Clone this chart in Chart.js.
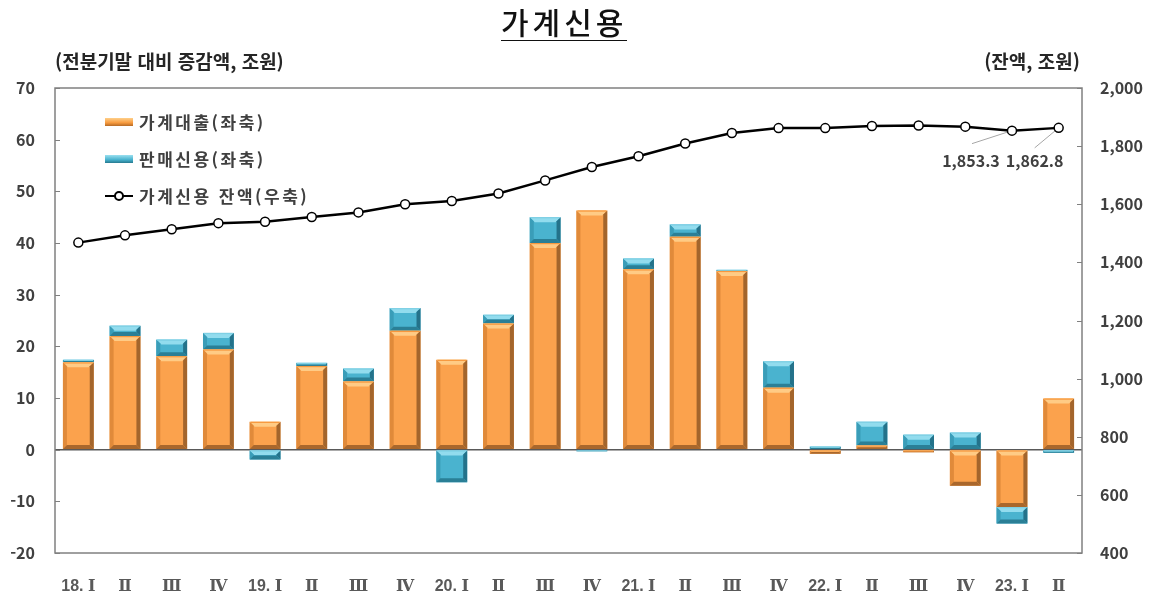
<!DOCTYPE html>
<html lang="ko">
<head>
<meta charset="utf-8">
<script src="https://cdn.jsdelivr.net/npm/chart.js@4.4.1/dist/chart.umd.min.js"></script>
<style>
  body { margin: 0; background: #fff; }
  #wrap { position: relative; width: 1152px; height: 596px; font-family: 'Noto Sans CJK KR', sans-serif; }
  #title { position: absolute; left: 501px; top: 3px; font-size: 30px; font-weight: 500; color: #111;
           letter-spacing: 4px; border-bottom: 1.5px solid #111; line-height: 36px; padding-bottom: 1px; }
  .axisTitle { position: absolute; top: 47px; font-size: 19px; font-weight: bold; color: #262626; }
  #legend { position: absolute; left: 105px; top: 103px; font-size: 17px; font-weight: bold; color: #404040; letter-spacing: 2.5px; }
  .item { height: 37px; display: flex; align-items: center; }
  .box { width: 28px; height: 8px; margin-right: 6px; }
  .lineIcon { width: 28px; height: 2px; background: #000; margin-right: 6px; position: relative; }
  .lineIcon::after { content: ''; position: absolute; left: 9px; top: -4px; width: 6px; height: 6px; border: 2px solid #000; border-radius: 50%; background: #fff; }
</style>
</head>
<body>
<div id="wrap">
  <canvas id="chart"></canvas>
  <div id="title">가계신용</div>
  <div class="axisTitle" style="left:55px">(전분기말 대비 증감액, 조원)</div>
  <div class="axisTitle" style="right:72px">(잔액, 조원)</div>
  <div id="legend">
    <div class="item"><div class="box" style="background:linear-gradient(#FFD08A,#F79A3E 60%,#B56A26)"></div>가계대출(좌축)</div>
    <div class="item"><div class="box" style="background:linear-gradient(#9BE0F0,#46B1CD 60%,#26798F)"></div>판매신용(좌축)</div>
    <div class="item"><div class="lineIcon"></div>가계신용 잔액(우축)</div>
  </div>
</div>
<script>
// 분기 라벨
const quarters = ['18. Ⅰ', 'Ⅱ', 'Ⅲ', 'Ⅳ', '19. Ⅰ', 'Ⅱ', 'Ⅲ', 'Ⅳ', '20. Ⅰ', 'Ⅱ', 'Ⅲ', 'Ⅳ',
  '21. Ⅰ', 'Ⅱ', 'Ⅲ', 'Ⅳ', '22. Ⅰ', 'Ⅱ', 'Ⅲ', 'Ⅳ', '23. Ⅰ', 'Ⅱ'];

// 전분기말 대비 증감액 (조원)
const householdLoans = [16.9, 22.0, 18.1, 19.4, 5.4, 16.2, 13.2, 23.0, 17.4, 24.4, 40.0, 46.3,
  34.9, 41.2, 34.6, 12.0, -0.8, 0.8, -0.5, -7.0, -11.1, 9.9];
const salesCredit = [0.5, 2.0, 3.2, 3.2, -1.9, 0.6, 2.5, 4.4, -6.3, 1.7, 5.0, -0.3,
  2.1, 2.4, 0.2, 5.1, 0.6, 4.6, 2.9, 3.3, -3.2, -0.6];

// 가계신용 잔액 (조원)
const creditBalance = [1468, 1493, 1514, 1535, 1540, 1556, 1572, 1600, 1611, 1637, 1682, 1728,
  1765, 1809, 1845, 1862, 1862, 1869, 1871, 1867, 1853.3, 1862.8];

const LABEL_FONT = "'Noto Sans CJK KR', sans-serif";
const XTICK_FONT = "'Liberation Sans', 'DejaVu Serif', sans-serif";

function poly(ctx, pts, color) {
  ctx.beginPath();
  ctx.moveTo(pts[0][0], pts[0][1]);
  for (let i = 1; i < pts.length; i++) ctx.lineTo(pts[i][0], pts[i][1]);
  ctx.closePath();
  ctx.fillStyle = color;
  ctx.fill();
}

// 막대 입체(베벨) 효과
const bevelPlugin = {
  id: 'bevel',
  afterDatasetDraw(chart, args) {
    const ds = chart.data.datasets[args.index];
    if (!ds.bevel) return;
    const pal = ds.bevel;
    const ctx = chart.ctx;
    args.meta.data.forEach(bar => {
      const { x, y, base, width } = bar.getProps(['x', 'y', 'base', 'width'], true);
      const l = x - width / 2, r = x + width / 2;
      const t = Math.min(y, base), b = Math.max(y, base);
      const h = b - t;
      if (h < 0.5) return;
      const e = Math.min(5, h / 2);
      const s = Math.min(4, h / 2);
      ctx.save();
      poly(ctx, [[l, t], [r, t], [r - e, t + e], [l + e, t + e]], pal.top);
      poly(ctx, [[l, t], [l + s, t + s], [l + s, b - s], [l, b]], pal.left);
      poly(ctx, [[r, t], [r, b], [r - s, b - s], [r - s, t + s]], pal.right);
      poly(ctx, [[l, b], [r, b], [r - s, b - s], [l + s, b - s]], pal.bottom);
      ctx.fillStyle = pal.rim;
      ctx.fillRect(l + 1, t, width - 2, Math.min(1.2, h));
      ctx.restore();
    });
  }
};

// 테두리, 안쪽 눈금, 마지막 두 값 표시
const framePlugin = {
  id: 'frame',
  beforeDatasetsDraw(chart) {
    const { ctx, chartArea: a } = chart;
    const yL = chart.scales.y, yR = chart.scales.y2;
    ctx.save();
    ctx.strokeStyle = '#808080';
    ctx.lineWidth = 1.5;
    ctx.strokeRect(a.left, a.top, a.right - a.left, a.bottom - a.top);
    ctx.lineWidth = 1;
    yL.ticks.forEach(t => {
      const py = Math.round(yL.getPixelForValue(t.value)) + 0.5;
      ctx.beginPath(); ctx.moveTo(a.left, py); ctx.lineTo(a.left + 5, py); ctx.stroke();
    });
    yR.ticks.forEach(t => {
      const py = Math.round(yR.getPixelForValue(t.value)) + 0.5;
      ctx.beginPath(); ctx.moveTo(a.right - 5, py); ctx.lineTo(a.right, py); ctx.stroke();
    });

    // 말값 라벨
    const pts = chart.getDatasetMeta(2).data;
    const n = pts.length;
    const marks = [
      { p: pts[n - 2], v: creditBalance[n - 2], lx: -40, ly: 13, tx: -41, ty: 30 },
      { p: pts[n - 1], v: creditBalance[n - 1], lx: -24, ly: 20, tx: -24, ty: 33 }
    ];
    ctx.strokeStyle = '#a6a6a6';
    ctx.lineWidth = 1;
    ctx.font = 'bold 16px ' + LABEL_FONT;
    ctx.fillStyle = '#404040';
    ctx.textAlign = 'center';
    ctx.textBaseline = 'middle';
    marks.forEach(m => {
      ctx.beginPath();
      ctx.moveTo(m.p.x, m.p.y);
      ctx.lineTo(m.p.x + m.lx, m.p.y + m.ly);
      ctx.stroke();
      ctx.fillText(m.v.toLocaleString('en-US', { minimumFractionDigits: 1 }), m.p.x + m.tx, m.p.y + m.ty);
    });
    ctx.restore();
  }
};

new Chart(document.getElementById('chart'), {
  data: {
    labels: quarters,
    datasets: [
      {
        type: 'bar',
        label: '가계대출(좌축)',
        data: householdLoans,
        yAxisID: 'y',
        order: 1,
        backgroundColor: '#FBA24D',
        bevel: { top: '#FFCB85', left: '#E08A3A', right: '#A3652C', bottom: '#A9672C', rim: '#F7983E' },
        categoryPercentage: 1,
        barPercentage: 0.66
      },
      {
        type: 'bar',
        label: '판매신용(좌축)',
        data: salesCredit,
        yAxisID: 'y',
        order: 1,
        backgroundColor: '#4AB3CF',
        bevel: { top: '#92DCEE', left: '#3A9DB8', right: '#24728A', bottom: '#2A7F96', rim: '#7FD0E4' },
        categoryPercentage: 1,
        barPercentage: 0.66
      },
      {
        type: 'line',
        label: '가계신용 잔액(우축)',
        data: creditBalance,
        yAxisID: 'y2',
        order: 0,
        borderColor: '#000',
        borderWidth: 2.5,
        pointRadius: 4.5,
        pointBorderWidth: 1.5,
        pointBackgroundColor: '#fff',
        pointBorderColor: '#000',
        tension: 0
      }
    ]
  },
  options: {
    responsive: true,
    maintainAspectRatio: false,
    animation: false,
    layout: { padding: { top: 88, left: 0, right: 0, bottom: 0 } },
    plugins: {
      legend: { display: false },
      tooltip: { enabled: false }
    },
    scales: {
      x: {
        stacked: true,
        grid: { display: false },
        border: { display: false },
        ticks: { color: '#595959', font: { family: XTICK_FONT, size: 16, weight: 'bold' }, padding: 16, maxRotation: 0, autoSkip: false },
        afterFit: s => { s.height = 43; }
      },
      y: {
        stacked: true,
        position: 'left',
        min: -20, max: 70,
        grid: {
          drawTicks: false,
          color: c => (c.tick && c.tick.value === 0 ? '#595959' : 'rgba(0,0,0,0)'),
          lineWidth: 1.5
        },
        border: { display: false },
        ticks: { stepSize: 10, color: '#404040', font: { family: LABEL_FONT, size: 16, weight: 'bold' }, padding: 20 },
        afterFit: s => { s.width = 55; }
      },
      y2: {
        position: 'right',
        min: 400, max: 2000,
        grid: { drawOnChartArea: false, drawTicks: false },
        border: { display: false },
        ticks: {
          stepSize: 200, color: '#404040', font: { family: LABEL_FONT, size: 16, weight: 'bold' }, padding: 18,
          callback: v => v.toLocaleString('en-US')
        },
        afterFit: s => { s.width = 70; }
      }
    }
  },
  plugins: [bevelPlugin, framePlugin]
});
</script>
</body>
</html>
